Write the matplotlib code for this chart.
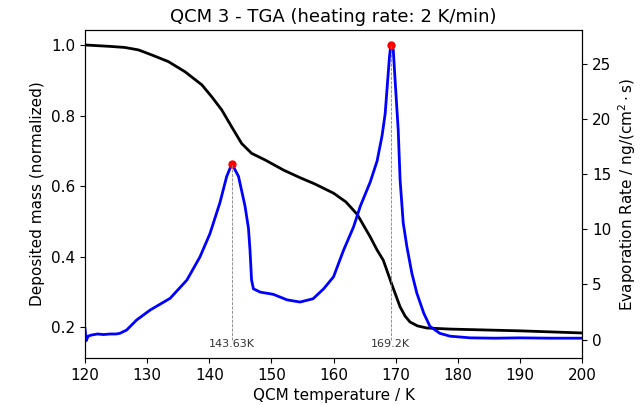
import matplotlib
matplotlib.use("Agg")
import matplotlib.pyplot as plt

# mass curve (left axis)
mass_T = [120, 124, 126.4, 128.6, 130.7, 133.4, 136.1, 138.8, 140.4, 142.0,
          143.6, 145.2, 146.8, 149.0, 152, 154.6, 157, 160, 162, 163.8, 165.9,
          167, 168, 169.4, 170.7, 171.5, 172.3, 173.5, 175, 178.75, 190, 200]
mass = [1.0, 0.996, 0.993, 0.986, 0.972, 0.953, 0.924, 0.887, 0.853, 0.816,
        0.768, 0.721, 0.693, 0.674, 0.645, 0.624, 0.606, 0.580, 0.555, 0.520,
        0.456, 0.419, 0.39, 0.32, 0.258, 0.232, 0.215, 0.204, 0.198, 0.195,
        0.19, 0.184]

# evaporation rate (right axis)
rate_T = [120, 120.2, 120.5, 121, 122, 123, 124, 125, 125.6, 126.7, 128.3,
          130.5, 133.7, 136.4, 138.5, 140.1, 141.7, 142.8, 143.63, 144.7,
          145.75, 146.3, 146.55, 146.8, 147.1, 148.2, 150.3, 152.5, 154.6,
          156.7, 158.4, 160.0, 161.6, 163.2, 164.3, 165.9, 167.0, 167.8, 168.3,
          168.7, 169.0, 169.2, 169.6, 169.9, 170.4, 170.7, 171.2, 171.8, 172.6,
          173.4, 174.5, 175.5, 177.1, 178.75, 182, 186, 190, 195, 200]
rate = [1.0, -0.1, 0.3, 0.4, 0.5, 0.45, 0.5, 0.5, 0.56, 0.86, 1.77,
        2.68, 3.74, 5.4, 7.5, 9.6, 12.4, 14.8, 15.95, 14.8,
        12.1, 10.1, 8.1, 5.4, 4.6, 4.3, 4.1, 3.6, 3.4,
        3.7, 4.6, 5.7, 8.1, 10.2, 12.1, 14.3, 16.2, 18.5, 20.5,
        23.5, 25.7, 26.7, 26.3, 23.5, 19.0, 14.5, 10.6, 8.4, 6.0,
        4.2, 2.4, 1.2, 0.56, 0.3, 0.15, 0.12, 0.15, 0.12, 0.12]

peak_T = [143.63, 169.2]
peak_rate = [15.95, 26.7]
peak_labels = ["143.63K", "169.2K"]

fig, ax = plt.subplots(figsize=(6.44, 4.05), dpi=100)
fig.subplots_adjust(left=0.132, right=0.904, top=0.926, bottom=0.116)

ax.plot(mass_T, mass, color="black", lw=2)
ax.set_xlim(120, 200)
ax.set_ylim(0.113, 1.0425)
ax.set_xlabel("QCM temperature / K", fontsize=11)
ax.set_ylabel("Deposited mass (normalized)", fontsize=11)
ax.tick_params(labelsize=11)
ax.set_title("QCM 3 - TGA (heating rate: 2 K/min)", fontsize=13)

ax2 = ax.twinx()
ax2.plot(rate_T, rate, color="blue", lw=2)
ax2.plot(peak_T, peak_rate, "o", color="red", ms=5)
for t, r, lab in zip(peak_T, peak_rate, peak_labels):
    ax2.plot([t, t], [0, r], color="gray", ls="--", lw=0.6)
    ax2.text(t, -0.45, lab, ha="center", va="center", fontsize=8, color="#333333")
ax2.set_ylim(-1.68, 28.09)
ax2.set_ylabel(r"Evaporation Rate / ng/(cm$^2\cdot$s)", fontsize=11)
ax2.tick_params(labelsize=11)

fig.savefig("out.png", dpi=100)
